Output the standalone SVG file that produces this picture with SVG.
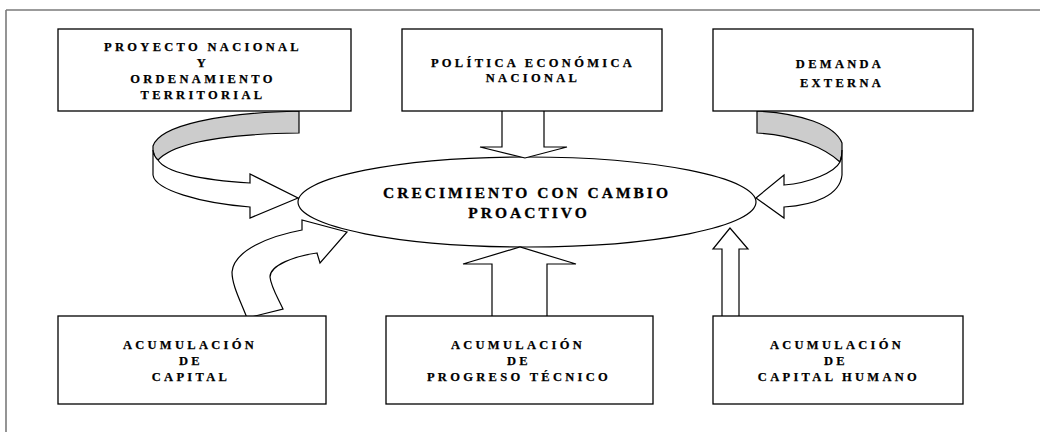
<svg xmlns="http://www.w3.org/2000/svg" width="1040" height="432" viewBox="0 0 1040 432">
<style>
.frame{stroke:#7a7a7a;stroke-width:1.6;fill:none}
.box{fill:#fff;stroke:#000;stroke-width:1.3}
.arr{fill:#fff;stroke:#000;stroke-width:1.2;stroke-linejoin:miter}
.fold{fill:#cccccc;stroke:#000;stroke-width:1.2}
.t{font-family:"Liberation Serif","Times New Roman",serif;font-weight:700;font-size:12.5px;letter-spacing:3.3px;text-anchor:middle;fill:#000;stroke:#000;stroke-width:0.25}
.tb{font-family:"Liberation Serif","Times New Roman",serif;font-weight:700;font-size:15.5px;letter-spacing:3px;text-anchor:middle;fill:#000;stroke:#000;stroke-width:0.3}
</style>
<rect width="1040" height="432" fill="#fff"/>
<g id="frame">
<line class="frame" x1="6" y1="10" x2="1040" y2="10"/>
<line class="frame" x1="6" y1="10" x2="6" y2="432"/>
</g>
<g id="center">
<ellipse cx="527" cy="202" rx="229" ry="45" fill="#fff" stroke="#000" stroke-width="1.2"/>
<text class="tb" x="527" y="198">CRECIMIENTO CON CAMBIO</text>
<text class="tb" x="529" y="218">PROACTIVO</text>
</g>
<g id="connectors">
<path class="fold" d="M299,111 C220,113 160,125 153,146 L153,150 Q154,157 158,160 C175,142 230,134 299,133 Z"/>
<path class="arr" d="M153,150 L153,175 C155,190 200,203 250,207 L250,218 L298,198 L250,174 L250,183 C200,180 165,172 158,160 Q154,157 153,150 Z"/>
<path class="fold" d="M757,111 C800,113 835,125 842,143 L842,150 Q842,157 840,162 C825,148 795,135 757,133 Z"/>
<path class="arr" d="M842,150 L842,175 C840,195 815,205 784,207 L784,218 L756,198 L784,175 L784,185 C810,183 835,172 840,162 Q842,157 842,150 Z"/>
<path class="arr" d="M502,111 L502,147 L480,147 L525,158 L567,147 L544,147 L544,111"/>
<path class="arr" d="M247,318 C240,300 232,285 232,272 C234,250 270,236 302,230 L302,220 L347,232 L320,263 L317,253 C295,256 270,265 270,277 C271,287 278,298 283,309 Z"/>
<path class="arr" d="M492,316 L492,264 L463,264 L520,247 L576,264 L547,264 L547,316"/>
<path class="arr" d="M722,316 L722,249 L713,249 L730,228 L748,249 L739,249 L739,316"/>
</g>
<g id="n1">
<rect class="box" x="58" y="29" width="293" height="82"/>
<text class="t" x="203" y="51">PROYECTO NACIONAL</text>
<text class="t" x="203" y="67">Y</text>
<text class="t" x="203" y="83">ORDENAMIENTO</text>
<text class="t" x="203" y="99">TERRITORIAL</text>
</g>
<g id="n2">
<rect class="box" x="402" y="29" width="260" height="82"/>
<text class="t" x="533" y="67">POLÍTICA ECONÓMICA</text>
<text class="t" x="533" y="82">NACIONAL</text>
</g>
<g id="n3">
<rect class="box" x="713" y="29" width="260" height="82"/>
<text class="t" x="840" y="68">DEMANDA</text>
<text class="t" x="842" y="87">EXTERNA</text>
</g>
<g id="n4">
<rect class="box" x="58" y="316" width="268" height="88"/>
<text class="t" x="190" y="349">ACUMULACIÓN</text>
<text class="t" x="191" y="365">DE</text>
<text class="t" x="191" y="381">CAPITAL</text>
</g>
<g id="n5">
<rect class="box" x="386" y="316" width="267" height="88"/>
<text class="t" x="518" y="349">ACUMULACIÓN</text>
<text class="t" x="519" y="365">DE</text>
<text class="t" x="519" y="381">PROGRESO TÉCNICO</text>
</g>
<g id="n6">
<rect class="box" x="713" y="316" width="250" height="88"/>
<text class="t" x="837" y="349">ACUMULACIÓN</text>
<text class="t" x="836" y="365">DE</text>
<text class="t" x="839" y="381">CAPITAL HUMANO</text>
</g>
</svg>
